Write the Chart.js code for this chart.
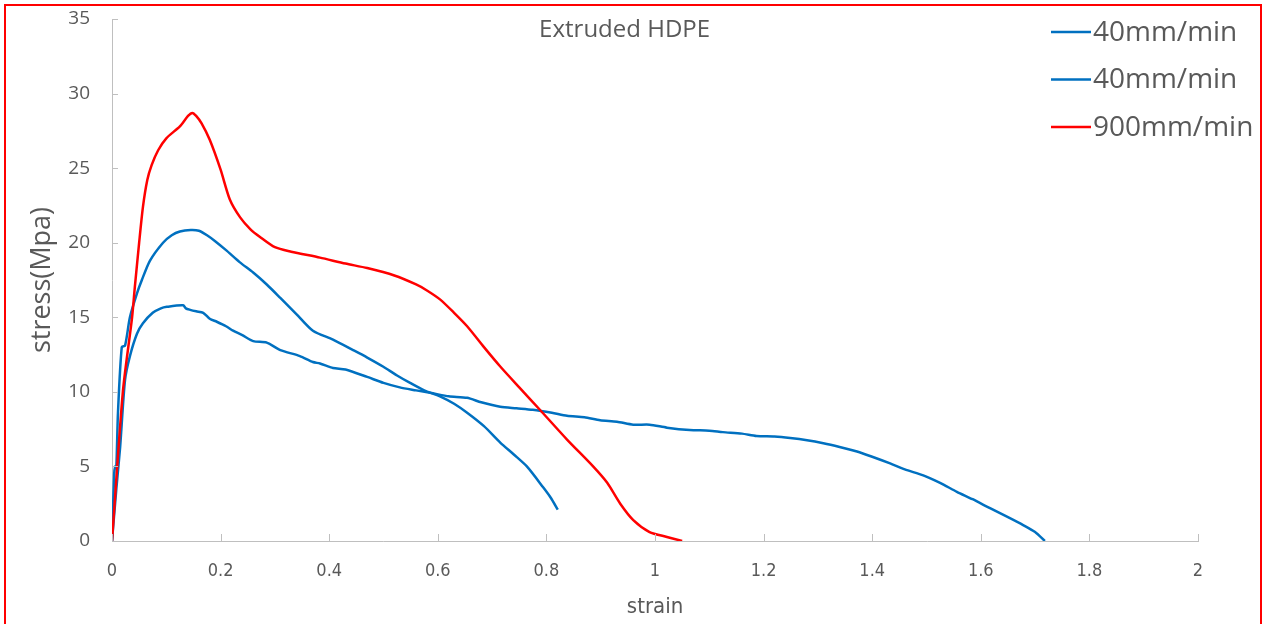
<!DOCTYPE html>
<html>
<head>
<meta charset="utf-8">
<script src="https://cdn.jsdelivr.net/npm/chart.js@4.4.1/dist/chart.umd.min.js"></script>
<style>
    body { margin: 0; overflow: hidden; background: #fff; }
    #wrap { position: relative; width: 1269px; height: 624px; }
    #frame { position: absolute; left: 4px; top: 4px; width: 1254px; height: 700px; border: 2px solid #ff0000; pointer-events: none; }
</style>
</head>
<body>
<div id="wrap">
    <canvas id="myChart" width="1269" height="624"></canvas>
    <div id="frame"></div>
</div>
<script>
let chartTitle = "Extruded HDPE"
let seriesNames = ["40mm/min", "40mm/min", "900mm/min"]
let xTickLabels = ["0", "0.2", "0.4", "0.6", "0.8", "1", "1.2", "1.4", "1.6", "1.8", "2"]
let yTickLabels = ["0", "5", "10", "15", "20", "25", "30", "35"]

let strainA = [0, 0.004, 0.006, 0.008, 0.011, 0.018, 0.024, 0.033, 0.046, 0.055, 0.07, 0.094, 0.11, 0.125, 0.145, 0.16, 0.175, 0.19, 0.21, 0.235,
    0.26, 0.285, 0.31, 0.34, 0.37, 0.407, 0.444, 0.47, 0.499, 0.525, 0.549, 0.575, 0.604, 0.63, 0.654, 0.685, 0.715, 0.74, 0.764, 0.794, 0.808, 0.821]
let stressA = [0, 4.5, 5.0, 5.0, 8.6, 13.0, 13.1, 15.0, 16.6, 17.5, 18.8, 20.0, 20.5, 20.75, 20.85, 20.8, 20.5, 20.1, 19.5, 18.7,
    18.0, 17.2, 16.3, 15.2, 14.1, 13.5, 12.8, 12.3, 11.7, 11.1, 10.6, 10.1, 9.7, 9.2, 8.6, 7.7, 6.6, 5.8, 5.0, 3.6, 2.9, 2.1]

let strainB = [0, 0.008, 0.015, 0.024, 0.033, 0.046, 0.057, 0.075, 0.09, 0.101, 0.131, 0.136, 0.144, 0.155, 0.168, 0.18, 0.193, 0.21, 0.223, 0.24,
    0.26, 0.285, 0.31, 0.346, 0.37, 0.383, 0.407, 0.43, 0.47, 0.5, 0.53, 0.56, 0.591, 0.62, 0.654, 0.68, 0.715, 0.745, 0.775, 0.81,
    0.838, 0.87, 0.899, 0.93, 0.96, 0.99, 1.022, 1.064, 1.1, 1.125, 1.16, 1.187, 1.22, 1.249, 1.28, 1.31, 1.34, 1.372, 1.4, 1.433,
    1.46, 1.494, 1.525, 1.556, 1.585, 1.617, 1.65, 1.678, 1.7, 1.718]
let stressB = [0, 3.5, 6.3, 10.8, 12.4, 13.9, 14.6, 15.3, 15.6, 15.7, 15.8, 15.6, 15.5, 15.4, 15.3, 14.9, 14.7, 14.4, 14.1, 13.8,
    13.4, 13.3, 12.8, 12.4, 12.0, 11.9, 11.6, 11.5, 11.0, 10.6, 10.3, 10.1, 9.9, 9.7, 9.6, 9.3, 9.0, 8.9, 8.8, 8.6,
    8.4, 8.3, 8.1, 8.0, 7.8, 7.8, 7.6, 7.44, 7.4, 7.3, 7.2, 7.04, 7.0, 6.9, 6.75, 6.55, 6.3, 6.0, 5.65, 5.2,
    4.8, 4.4, 3.9, 3.3, 2.8, 2.2, 1.6, 1.07, 0.6, 0]

let strainC = [0, 0.02, 0.037, 0.042, 0.05, 0.057, 0.065, 0.073, 0.085, 0.1, 0.125, 0.14, 0.148, 0.155, 0.165, 0.18, 0.2, 0.217, 0.236, 0.255,
    0.272, 0.3, 0.33, 0.383, 0.43, 0.47, 0.52, 0.56, 0.58, 0.604, 0.63, 0.654, 0.685, 0.715, 0.75, 0.788, 0.838, 0.886, 0.912, 0.936,
    0.96, 0.99, 1.022, 1.05]
let stressC = [0, 10, 15, 17, 20, 22.4, 24.2, 25.2, 26.2, 27.0, 27.8, 28.5, 28.7, 28.5, 28.0, 26.9, 24.9, 22.9, 21.7, 20.9,
    20.4, 19.7, 19.4, 19.0, 18.6, 18.3, 17.8, 17.2, 16.8, 16.2, 15.3, 14.4, 13.0, 11.7, 10.3, 8.8, 6.8, 5.0, 3.9, 2.5,
    1.4, 0.6, 0.27, 0]

let blue = "#0070c0"
let red = "#ff0000"
let textGray = "#595959"
let axisGray = "#bfbfbf"
let narrowFont = "'Liberation Sans Narrow', 'DejaVu Sans Condensed', sans-serif"

function ToPoints(xs, ys){
    let pts = []
    for (let i = 0; i < xs.length; i++) {
        pts.push({x: xs[i], y: ys[i]})
    }
    return pts
}

// inner tick marks, title inside the plot and the legend on the right
let decorations = {
    id: "decorations",
    afterDraw(chart){
        let ctx = chart.ctx
        let area = chart.chartArea
        let xs = chart.scales.x
        let ys = chart.scales.y
        ctx.save()
        ctx.strokeStyle = axisGray
        ctx.lineWidth = 1
        ctx.beginPath()
        xs.ticks.forEach(t => {
            let px = Math.round(xs.getPixelForValue(t.value)) + 0.5
            ctx.moveTo(px, area.bottom)
            ctx.lineTo(px, area.bottom - 7)
        })
        ys.ticks.forEach(t => {
            let py = Math.round(ys.getPixelForValue(t.value)) + 0.5
            ctx.moveTo(area.left, py)
            ctx.lineTo(area.left + 6, py)
        })
        ctx.stroke()

        ctx.fillStyle = textGray
        ctx.font = "24px 'Open Sans'"
        ctx.textAlign = "center"
        ctx.textBaseline = "middle"
        ctx.fillText(chartTitle, area.left + area.width * 0.472, 30)

        ctx.font = "28px 'Open Sans'"
        ctx.textAlign = "left"
        chart.data.datasets.forEach((ds, i) => {
            let y = 32 + i * 47.5
            ctx.strokeStyle = ds.borderColor
            ctx.lineWidth = 2.5
            ctx.beginPath()
            ctx.moveTo(1051, y)
            ctx.lineTo(1091, y)
            ctx.stroke()
            ctx.fillText(ds.label, 1093, y + 1)
        })
        ctx.restore()
    }
}

let chart = new Chart("myChart", {
    type: "scatter",
    data: {
        datasets: [{
            label: seriesNames[0],
            data: ToPoints(strainA, stressA),
            borderColor: blue,
            order: 1
        }, {
            label: seriesNames[1],
            data: ToPoints(strainB, stressB),
            borderColor: blue,
            order: 2
        }, {
            label: seriesNames[2],
            data: ToPoints(strainC, stressC),
            borderColor: red,
            order: 0
        }]
    },
    options: {
        responsive: false,
        animation: false,
        showLine: true,
        elements: {
            point: { radius: 0 },
            line: { borderWidth: 2.5, tension: 0.25, fill: false }
        },
        layout: {
            padding: { top: 19, right: 71, left: 0, bottom: 0 }
        },
        plugins: {
            legend: { display: false },
            title: { display: false },
            tooltip: { enabled: false }
        },
        scales: {
            x: {
                type: "linear",
                min: 0,
                max: 2,
                afterFit: s => {
                    s.height = 83
                    s.paddingLeft = 0
                    s.paddingRight = 0
                },
                grid: { display: false, drawTicks: false },
                border: { display: true, color: axisGray, width: 1 },
                ticks: {
                    stepSize: 0.2,
                    padding: 20,
                    color: textGray,
                    font: { family: narrowFont, size: 18 },
                    callback: (v, i) => xTickLabels[i]
                },
                title: {
                    display: true,
                    text: "strain",
                    color: textGray,
                    font: { family: narrowFont, size: 22 },
                    padding: { top: 0, bottom: 4 }
                }
            },
            y: {
                min: 0,
                max: 35,
                afterFit: s => {
                    s.width = 112
                    s.paddingTop = 0
                    s.paddingBottom = 0
                },
                grid: { display: false, drawTicks: false },
                border: { display: true, color: axisGray, width: 1 },
                ticks: {
                    stepSize: 5,
                    padding: 22,
                    color: textGray,
                    font: { family: "'Open Sans'", size: 19 },
                    callback: (v, i) => yTickLabels[i]
                },
                title: {
                    display: true,
                    text: "stress(Mpa)",
                    color: textGray,
                    font: { family: "'Open Sans'", size: 27 },
                    padding: { top: 26, bottom: 0 }
                }
            }
        }
    },
    plugins: [decorations]
})
</script>
</body>
</html>
